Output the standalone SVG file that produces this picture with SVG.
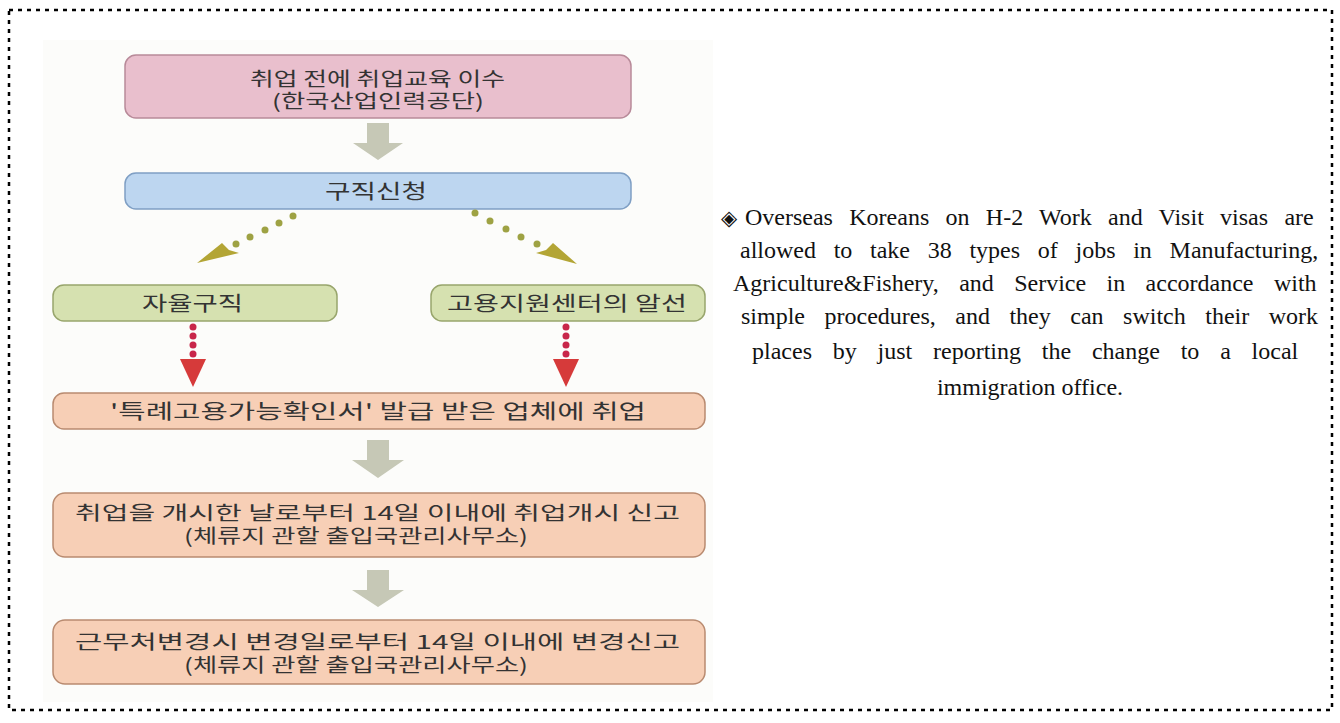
<svg xmlns="http://www.w3.org/2000/svg" width="1340" height="723" viewBox="0 0 1340 723">
<style>
.kr{font-family:"Noto Sans CJK KR","Noto Sans",sans-serif;font-size:20px;fill:#333;}
.kr2{font-family:"Noto Sans CJK KR","Noto Sans",sans-serif;font-size:19px;fill:#333;}
.en{font-family:"Liberation Serif","Times New Roman",serif;font-size:24px;fill:#111;}
.sym{font-family:"DejaVu Sans",sans-serif;font-size:21px;fill:#111;}
.pink{fill:#e9bfcd;stroke:#b88a99;stroke-width:1.5;}
.blue{fill:#bdd6f0;stroke:#7f9fc4;stroke-width:1.5;}
.green{fill:#d6e1b0;stroke:#98a56c;stroke-width:1.5;}
.orange{fill:#f7cfb6;stroke:#b98b70;stroke-width:1.5;}
.gray{fill:#c6c8b6;}
.odot{fill:#9ea243;}
.ohead{fill:#b3a535;}
.rdot{fill:#c8264a;}
.rhead{fill:#d63a3a;}
</style>
<rect x="0" y="0" width="1340" height="723" fill="#ffffff"/>
<rect x="43" y="40" width="670" height="662" fill="#fcfcfa"/>
<rect id="border" x="9" y="10" width="1323" height="700" fill="none" stroke="#000" stroke-width="2.5" stroke-dasharray="4 5"/>

<g id="n1">
<rect class="pink" x="125" y="55" width="506" height="63" rx="11"/>
<text class="kr2"><tspan x="250" y="86" textLength="255" lengthAdjust="spacingAndGlyphs">취업 전에 취업교육 이수</tspan><tspan x="272" y="108" textLength="212" lengthAdjust="spacingAndGlyphs">(한국산업인력공단)</tspan></text>
</g>
<g id="n2">
<rect class="blue" x="125" y="173" width="506" height="36" rx="11"/>
<text class="kr" x="325" y="199" textLength="102" lengthAdjust="spacingAndGlyphs">구직신청</text>
</g>
<g id="n3">
<rect class="green" x="53" y="285" width="284" height="36" rx="11"/>
<text class="kr" x="142" y="311" textLength="101" lengthAdjust="spacingAndGlyphs">자율구직</text>
</g>
<g id="n4">
<rect class="green" x="431" y="285" width="274" height="36" rx="11"/>
<text class="kr" x="447" y="311" textLength="240" lengthAdjust="spacingAndGlyphs">고용지원센터의 알선</text>
</g>
<g id="n5">
<rect class="orange" x="53" y="393" width="652" height="36" rx="11"/>
<text class="kr" x="110" y="419" textLength="536" lengthAdjust="spacingAndGlyphs">'특례고용가능확인서' 발급 받은 업체에 취업</text>
</g>
<g id="n6">
<rect class="orange" x="53" y="493" width="652" height="64" rx="12"/>
<text class="kr2"><tspan x="75" y="520" textLength="605" lengthAdjust="spacingAndGlyphs">취업을 개시한 날로부터 14일 이내에 취업개시 신고</tspan><tspan x="184" y="543" textLength="344" lengthAdjust="spacingAndGlyphs">(체류지 관할 출입국관리사무소)</tspan></text>
</g>
<g id="n7">
<rect class="orange" x="53" y="620" width="652" height="64" rx="12"/>
<text class="kr2"><tspan x="75" y="649" textLength="605" lengthAdjust="spacingAndGlyphs">근무처변경시 변경일로부터 14일 이내에 변경신고</tspan><tspan x="184" y="672" textLength="344" lengthAdjust="spacingAndGlyphs">(체류지 관할 출입국관리사무소)</tspan></text>
</g>

<g id="connectors">
<polygon class="gray" points="367,123 389,123 389,143 403,143 378,160 353,143 367,143"/>
<polygon class="gray" points="367,440 389,440 389,460 404,460 378,478 352,460 367,460"/>
<polygon class="gray" points="367,570 389,570 389,590 404,590 378,607 352,590 367,590"/>
<g>
<circle class="odot" cx="293" cy="216" r="3.5"/>
<circle class="odot" cx="279" cy="223" r="3.5"/>
<circle class="odot" cx="265" cy="230" r="3.5"/>
<circle class="odot" cx="250" cy="237" r="3.5"/>
<circle class="odot" cx="236" cy="244" r="3.5"/>
<polygon class="ohead" points="197,263 222,243 229,250 239,253"/>
</g>
<g>
<circle class="odot" cx="475" cy="213" r="3.5"/>
<circle class="odot" cx="490" cy="221" r="3.5"/>
<circle class="odot" cx="506" cy="229" r="3.5"/>
<circle class="odot" cx="521" cy="237" r="3.5"/>
<circle class="odot" cx="537" cy="244" r="3.5"/>
<polygon class="ohead" points="577,264 553,243 546,250 536,253"/>
</g>
<g>
<circle class="rdot" cx="193" cy="327" r="3.5"/>
<circle class="rdot" cx="193" cy="336" r="3.5"/>
<circle class="rdot" cx="193" cy="345" r="3.5"/>
<circle class="rdot" cx="193" cy="354" r="3.5"/>
<polygon class="rhead" points="180,359 206,359 193,387"/>
</g>
<g>
<circle class="rdot" cx="566" cy="327" r="3.5"/>
<circle class="rdot" cx="566" cy="336" r="3.5"/>
<circle class="rdot" cx="566" cy="345" r="3.5"/>
<circle class="rdot" cx="566" cy="354" r="3.5"/>
<polygon class="rhead" points="553,359 579,359 566,387"/>
</g>
</g>

<g id="note">
<text class="sym" x="721" y="225">◈</text>
<text class="en" x="745" y="225" word-spacing="10.3">Overseas Koreans on H-2 Work and Visit visas are</text>
<text class="en" x="740" y="258" word-spacing="11.7">allowed to take 38 types of jobs in Manufacturing,</text>
<text class="en" x="733" y="291" word-spacing="14.4">Agriculture&amp;Fishery, and Service in accordance with</text>
<text class="en" x="741" y="324" word-spacing="13.5">simple procedures, and they can switch their work</text>
<text class="en" x="752" y="359" word-spacing="14.8">places by just reporting the change to a local</text>
<text class="en" x="1030" y="395" text-anchor="middle">immigration office.</text>
</g>
</svg>
